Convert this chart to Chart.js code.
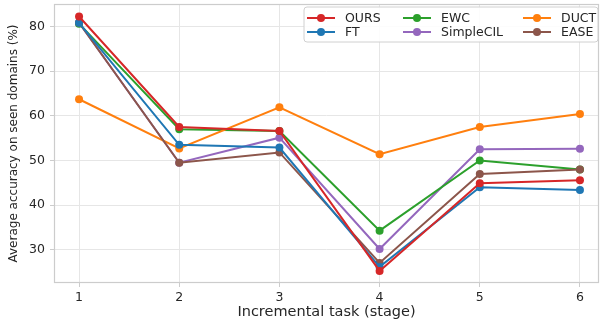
<!DOCTYPE html>
<html>
<head>
<meta charset="utf-8">
<script src="https://cdn.jsdelivr.net/npm/chart.js@4/dist/chart.umd.min.js"></script>
<style>
  html, body { margin: 0; padding: 0; background: #fff; }
  #wrap { width: 603px; height: 324px; position: relative; }
</style>
</head>
<body>
<div id="wrap"><canvas id="c"></canvas></div>
<script>
// Incremental stages on the x axis
const stages = [1, 2, 3, 4, 5, 6];
const yTicks = [30, 40, 50, 60, 70, 80];

// Average accuracy on seen domains (%) per method
const ours      = [82.2, 57.5, 56.6, 25.3, 44.9, 45.6];
const ft        = [80.8, 53.5, 52.9, 26.2, 44.0, 43.4];
const ewc       = [80.6, 57.0, 56.6, 34.3, 50.0, 48.0];
const simpleCIL = [80.8, 49.5, 55.1, 30.2, 52.5, 52.6];
const duct      = [63.7, 52.7, 61.9, 51.4, 57.5, 60.4];
const ease      = [80.8, 49.5, 51.8, 27.1, 47.0, 48.0];

const COLORS = {
  OURS: '#d62728', FT: '#1f77b4', EWC: '#2ca02c',
  SimpleCIL: '#9467bd', DUCT: '#ff7f0e', EASE: '#8c564b'
};

function series(label, values) {
  return {
    label,
    data: stages.map((s, i) => ({ x: s, y: values[i] })),
    borderColor: COLORS[label],
    backgroundColor: COLORS[label],
    borderWidth: 2,
    pointRadius: 4,
    pointHoverRadius: 4,
    pointBorderWidth: 0,
    tension: 0
  };
}

// first entry is painted on top
const datasets = [
  series('OURS', ours),
  series('FT', ft),
  series('EASE', ease),
  series('DUCT', duct),
  series('EWC', ewc),
  series('SimpleCIL', simpleCIL)
];

// legend grid: [label, column, row]
const legendLayout = [
  ['OURS', 0, 0], ['FT', 0, 1],
  ['EWC', 1, 0], ['SimpleCIL', 1, 1],
  ['DUCT', 2, 0], ['EASE', 2, 1]
];

const FONT = 'DejaVu Sans';
const TEXT = '#262626';
const GRID = '#e6e6e6';
const SPINE = '#cccccc';

const framePlugin = {
  id: 'frame',
  afterDraw(chart) {
    const { ctx, chartArea: a } = chart;
    ctx.save();
    ctx.strokeStyle = SPINE;
    ctx.lineWidth = 1.2;
    ctx.strokeRect(a.left + 0.5, a.top + 0.5, a.right - a.left - 1, a.bottom - a.top - 1);

    // legend box
    const bx = a.left + 250, by = a.top + 3, bw = 294, bh = 35;
    ctx.beginPath();
    ctx.roundRect(bx, by, bw, bh, 3);
    ctx.fillStyle = 'rgba(255,255,255,0.85)';
    ctx.fill();
    ctx.strokeStyle = '#d0d0d0';
    ctx.lineWidth = 1;
    ctx.stroke();

    const colX = [bx + 3, bx + 99, bx + 219];
    const rowY = [by + 11, by + 25];
    ctx.font = '12.5px "' + FONT + '"';
    ctx.textBaseline = 'middle';
    ctx.textAlign = 'left';
    legendLayout.forEach(([label, c, r]) => {
      const x = colX[c], y = rowY[r];
      ctx.strokeStyle = COLORS[label];
      ctx.lineWidth = 2;
      ctx.beginPath();
      ctx.moveTo(x, y);
      ctx.lineTo(x + 28, y);
      ctx.stroke();
      ctx.fillStyle = COLORS[label];
      ctx.beginPath();
      ctx.arc(x + 14, y, 4, 0, Math.PI * 2);
      ctx.fill();
      ctx.fillStyle = TEXT;
      ctx.fillText(label, x + 38, y + 0.5);
    });
    ctx.restore();
  }
};

new Chart(document.getElementById('c'), {
  type: 'line',
  data: { datasets },
  plugins: [framePlugin],
  options: {
    responsive: true,
    maintainAspectRatio: false,
    animation: false,
    layout: { padding: { top: 1, right: 2, left: 0, bottom: 0 } },
    plugins: { legend: { display: false }, tooltip: { enabled: false } },
    scales: {
      x: {
        type: 'linear',
        min: 0.75,
        max: 6.19,
        afterBuildTicks(scale) { scale.ticks = stages.map(v => ({ value: v })); },
        afterFit(scale) {
          scale.height = 41;
          scale.paddingLeft = 0;
          scale.paddingRight = 0;
        },
        grid: { color: GRID, tickColor: SPINE, tickLength: 4, drawTicks: true },
        border: { display: false },
        ticks: { color: TEXT, font: { family: FONT, size: 12.5 }, padding: 3, autoSkip: false, maxRotation: 0 },
        title: {
          display: true, text: 'Incremental task (stage)', color: TEXT,
          font: { family: FONT, size: 14.5 }, padding: { top: 0, bottom: 3 }
        }
      },
      y: {
        min: 22.6,
        max: 85,
        afterBuildTicks(scale) { scale.ticks = yTicks.map(v => ({ value: v })); },
        afterFit(scale) {
          scale.width = 54;
          scale.paddingTop = 0;
          scale.paddingBottom = 0;
        },
        grid: { color: GRID, tickColor: SPINE, tickLength: 4, drawTicks: true },
        border: { display: false },
        ticks: { color: TEXT, font: { family: FONT, size: 12.5 }, padding: 5 },
        title: {
          display: true, text: 'Average accuracy on seen domains (%)', color: TEXT,
          font: { family: FONT, size: 12 }, padding: { top: 7, bottom: 0 }
        }
      }
    }
  }
});
</script>
</body>
</html>
